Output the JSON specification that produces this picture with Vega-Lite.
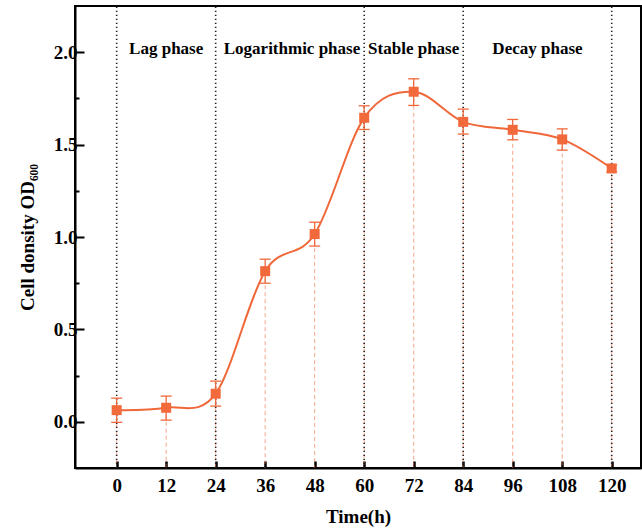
{
  "$schema": "https://vega.github.io/schema/vega-lite/v6.json",
  "width": 566,
  "height": 462,
  "autosize": {"type": "none"},
  "padding": {"left": 75, "top": 6, "right": 1, "bottom": 64},
  "background": "white",
  "config": {
    "view": {"stroke": "black", "strokeWidth": 2},
    "font": "Liberation Serif"
  },
  "datasets": {
    "growth": [
      {"t": 0, "od": 0.063, "lo": -0.003, "hi": 0.128},
      {"t": 12, "od": 0.076, "lo": 0.009, "hi": 0.139},
      {"t": 24, "od": 0.152, "lo": 0.085, "hi": 0.220},
      {"t": 36, "od": 0.815, "lo": 0.750, "hi": 0.880},
      {"t": 48, "od": 1.016, "lo": 0.951, "hi": 1.080},
      {"t": 60, "od": 1.645, "lo": 1.582, "hi": 1.710},
      {"t": 72, "od": 1.786, "lo": 1.712, "hi": 1.856},
      {"t": 84, "od": 1.623, "lo": 1.557, "hi": 1.692},
      {"t": 96, "od": 1.580, "lo": 1.526, "hi": 1.636},
      {"t": 108, "od": 1.528, "lo": 1.470, "hi": 1.585},
      {"t": 120, "od": 1.371, "lo": 1.352, "hi": 1.390}
    ],
    "phases": [{"t": 0}, {"t": 24}, {"t": 60}, {"t": 84}, {"t": 120}],
    "labels": [
      {"t": 12, "y": 2.02, "label": "Lag phase"},
      {"t": 42.5, "y": 2.02, "label": "Logarithmic phase"},
      {"t": 72, "y": 2.02, "label": "Stable phase"},
      {"t": 102, "y": 2.02, "label": "Decay phase"}
    ]
  },
  "encoding": {
    "x": {
      "field": "t",
      "type": "quantitative",
      "scale": {"domain": [-10.1, 127.1], "nice": false, "zero": false},
      "axis": {
        "title": "Time(h)",
        "values": [0, 12, 24, 36, 48, 60, 72, 84, 96, 108, 120],
        "grid": false,
        "domainColor": "black",
        "domainWidth": 2,
        "tickColor": "black",
        "tickWidth": 2.5,
        "tickSize": -7,
        "labelPadding": 15,
        "labelFont": "Liberation Serif",
        "labelFontSize": 19,
        "labelFontWeight": "bold",
        "labelColor": "black",
        "titleFont": "Liberation Serif",
        "titleFontSize": 19,
        "titleFontWeight": "bold",
        "titleColor": "black",
        "titlePadding": 12
      }
    }
  },
  "layer": [
    {
      "data": {"name": "growth"},
      "mark": {"type": "rule", "color": "#F0683A", "opacity": 0.6, "strokeWidth": 1, "strokeDash": [4, 3]},
      "encoding": {
        "y": {"field": "od", "type": "quantitative"},
        "y2": {"datum": -0.25}
      }
    },
    {
      "data": {"name": "phases"},
      "mark": {"type": "rule", "color": "#222222", "strokeWidth": 1.6, "strokeDash": [1.2, 2.8]},
      "encoding": {
        "y": {"datum": -0.25},
        "y2": {"datum": 2.25}
      }
    },
    {
      "data": {"name": "growth"},
      "mark": {"type": "rule", "color": "#F0683A", "strokeWidth": 1.3},
      "encoding": {
        "y": {"field": "lo", "type": "quantitative"},
        "y2": {"field": "hi"}
      }
    },
    {
      "data": {"name": "growth"},
      "mark": {"type": "tick", "orient": "horizontal", "color": "#F0683A", "size": 11, "thickness": 1.3, "opacity": 1},
      "encoding": {"y": {"field": "lo", "type": "quantitative"}}
    },
    {
      "data": {"name": "growth"},
      "mark": {"type": "tick", "orient": "horizontal", "color": "#F0683A", "size": 11, "thickness": 1.3, "opacity": 1},
      "encoding": {"y": {"field": "hi", "type": "quantitative"}}
    },
    {
      "data": {"name": "growth"},
      "mark": {"type": "line", "color": "#F0683A", "strokeWidth": 2, "interpolate": "cardinal"},
      "encoding": {
        "y": {
          "field": "od",
          "type": "quantitative",
          "scale": {"domain": [-0.25, 2.25], "nice": false, "zero": false},
          "axis": {
            "title": "Cell donsity OD₆₀₀",
            "values": [0, 0.25, 0.5, 0.75, 1, 1.25, 1.5, 1.75, 2],
            "labelExpr": "datum.value % 0.5 === 0 ? format(datum.value, '.1f') : ''",
            "grid": false,
            "domainColor": "black",
            "domainWidth": 2,
            "tickColor": "black",
            "tickWidth": 2,
            "tickSize": {"condition": {"test": "datum.value % 0.5 === 0", "value": -9}, "value": -4},
            "labelPadding": 7,
            "labelFont": "Liberation Serif",
            "labelFontSize": 19,
            "labelFontWeight": "bold",
            "labelColor": "black",
            "titleFont": "Liberation Serif",
            "titleFontSize": 19,
            "titleFontWeight": "bold",
            "titleColor": "black",
            "titlePadding": 16
          }
        }
      }
    },
    {
      "data": {"name": "growth"},
      "mark": {"type": "point", "shape": "square", "filled": true, "size": 100, "color": "#F26A3B", "opacity": 1},
      "encoding": {"y": {"field": "od", "type": "quantitative"}}
    },
    {
      "data": {"name": "labels"},
      "mark": {"type": "text", "font": "Liberation Serif", "fontSize": 17, "fontWeight": "bold", "color": "black", "baseline": "middle", "align": "center"},
      "encoding": {
        "y": {"field": "y", "type": "quantitative"},
        "text": {"field": "label"}
      }
    }
  ]
}
